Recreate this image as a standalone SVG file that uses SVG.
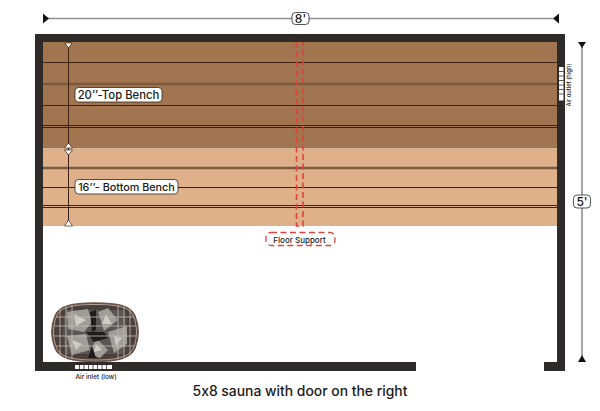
<svg xmlns="http://www.w3.org/2000/svg" width="600" height="411" viewBox="0 0 600 411">
<style>
text{font-family:Inter,"Liberation Sans",sans-serif;fill:#1a1a1a;text-anchor:middle;font-weight:500;font-feature-settings:"calt" 0}
.dim{stroke:#8f8f8f;stroke-width:1.6;fill:none}
.ah{fill:#111}
.wall{fill:#2e2b28}
.ln{stroke:#3d2212;stroke-width:1.2;fill:none}
.sh{stroke:#7c5a40;stroke-width:2.6}
.sup{stroke:#d9453f;stroke-width:1.6;fill:none;stroke-dasharray:6 3.5}
.lab{fill:#fff;stroke:#2a2a2a;stroke-width:.8}
.vent{fill:#fff}
.cage{fill:none;stroke:#c9bbae;stroke-width:.8}
</style>
<rect width="600" height="411" fill="#fff"/>
<g id="benches">
<rect x="43" y="42" width="514" height="106.500" fill="#a0754f"/>
<rect x="43" y="148.500" width="514" height="77.500" fill="#deb18b"/>
</g>
<g id="walls">
<path class="wall" d="M35 34H565V371H544V362H557V42H43V362H416V371H35Z"/>
</g>
<g id="connectors">
<path class="ln" d="M43 62.500H557M43 105.500H557M43 125.500H557M43 127.500H557M43 187.500H557M43 205.500H557M43 207.500H557"/>
<path class="sh" d="M43 84H557M43 168H557"/>
<path d="M68.500 44V226" stroke="#3d2212" stroke-width="1"/>
<path class="dim" d="M47 18.500H292M309 18.500H553"/>
<path class="ah" d="M43 13.500L49 18.500L43 23.500ZM559 13.500L553 18.500L559 23.500Z"/>
<path class="dim" d="M582 46V356"/>
<path class="ah" d="M578 42H586L582 48ZM578 362H586L582 355Z"/>
<path class="sup" d="M296.500 42V226H303V42"/>
</g>
<g id="bench-arrows" fill="#fff" stroke="#3d2212" stroke-width=".7">
<path d="M65 43H72L68.500 48Z"/>
<path d="M64.500 148L68.500 143L72.500 148ZM64.500 150H72.500L68.500 155Z"/>
<path d="M64.500 226L68.500 220L72.500 226Z"/>
</g>
<g id="label-8ft"><rect class="lab" x="292" y="12.500" width="17" height="12" rx="3.500"/><text x="300.500" y="23" font-size="12">8'</text></g>
<g id="label-5ft"><rect class="lab" x="573.500" y="195" width="17" height="13" rx="3.500"/><text x="582" y="206" font-size="12">5'</text></g>
<g id="label-top-bench"><rect class="lab" x="75" y="87.500" width="87" height="14.500" rx="3.500"/><text x="118.500" y="98.800" font-size="11.300">20’’-Top Bench</text></g>
<g id="label-bottom-bench"><rect class="lab" x="75" y="179.500" width="103" height="14.500" rx="3.500"/><text x="126.500" y="191" font-size="10.800">16’’- Bottom Bench</text></g>
<g id="label-floor-support"><rect x="266" y="232.500" width="69" height="13" rx="5" fill="#fff" stroke="#d9453f" stroke-width="1.300" stroke-dasharray="6 3.500"/><text x="299.500" y="242.500" font-size="8" font-weight="600">Floor Support</text></g>
<g id="air-outlet">
<rect x="559" y="67" width="4.500" height="33.500" class="vent"/>
<path d="M559 71.500H563.500M559 76H563.500M559 80.500H563.500M559 85H563.500M559 89.500H563.500M559 94H563.500" stroke="#2e2b28" stroke-width=".8"/>
<text transform="translate(571 85) rotate(-90)" font-size="5.800">Air outlet (high)</text>
</g>
<g id="air-inlet">
<rect x="75" y="365" width="37" height="4" class="vent"/>
<path d="M79.500 365V369M84 365V369M88.500 365V369M93 365V369M97.500 365V369M102 365V369M106.500 365V369" stroke="#2e2b28" stroke-width=".8"/>
<text x="96" y="378.500" font-size="6.500">Air inlet (low)</text>
</g>
<g id="heater">
<path id="heater-body" d="M95 303C118 303 131 306 135 316C139 326 139 338 135 348C131 358 118 361.500 95 361.500C72 361.500 59 358 55 348C51 338 51 326 55 316C59 306 72 303 95 303Z" fill="#4a3f3a" stroke="#6b5245" stroke-width="1.500"/>
<path d="M66 310H124Q130 332 124 354H66Q60 332 66 310Z" fill="#5a5654"/>
<path fill="#a09d98" d="M67 312L88 309L92 322L84 332L68 329ZM98 312L108 308L118 320L104 331ZM108 332L127 326L127 344L114 353ZM67 336L86 334L90 350L72 355ZM96 338L108 350L100 358L90 354Z"/>
<path fill="#d0ccc6" d="M74 314L86 320L76 326ZM106 314L112 324L102 324ZM114 336L122 338L116 346ZM72 340L82 344L76 350ZM96 344L102 350L94 352Z"/>
<path fill="#1f1c1b" d="M90 312L96 310L96 330L92 332ZM86 332L104 332L108 338L94 342ZM92 346L96 358L88 358Z"/>
<g class="cage">
<path d="M56 317H134M54 326H136M54 336H136M56 346H134M60 308V356M66 306V358M72 305V359M118 305V359M124 306V358M130 308V356"/>
<path d="M95 304.500C117 304.500 130 307 133.500 316.500C137.500 326 137.500 338 133.500 347.500C130 357 117 360 95 360C73 360 60 357 56.500 347.500C52.500 338 52.500 326 56.500 316.500C60 307 73 304.500 95 304.500Z"/>
</g>
</g>
<g id="caption"><text x="300" y="395.500" font-size="13.900">5x8 sauna with door on the right</text></g>
</svg>
